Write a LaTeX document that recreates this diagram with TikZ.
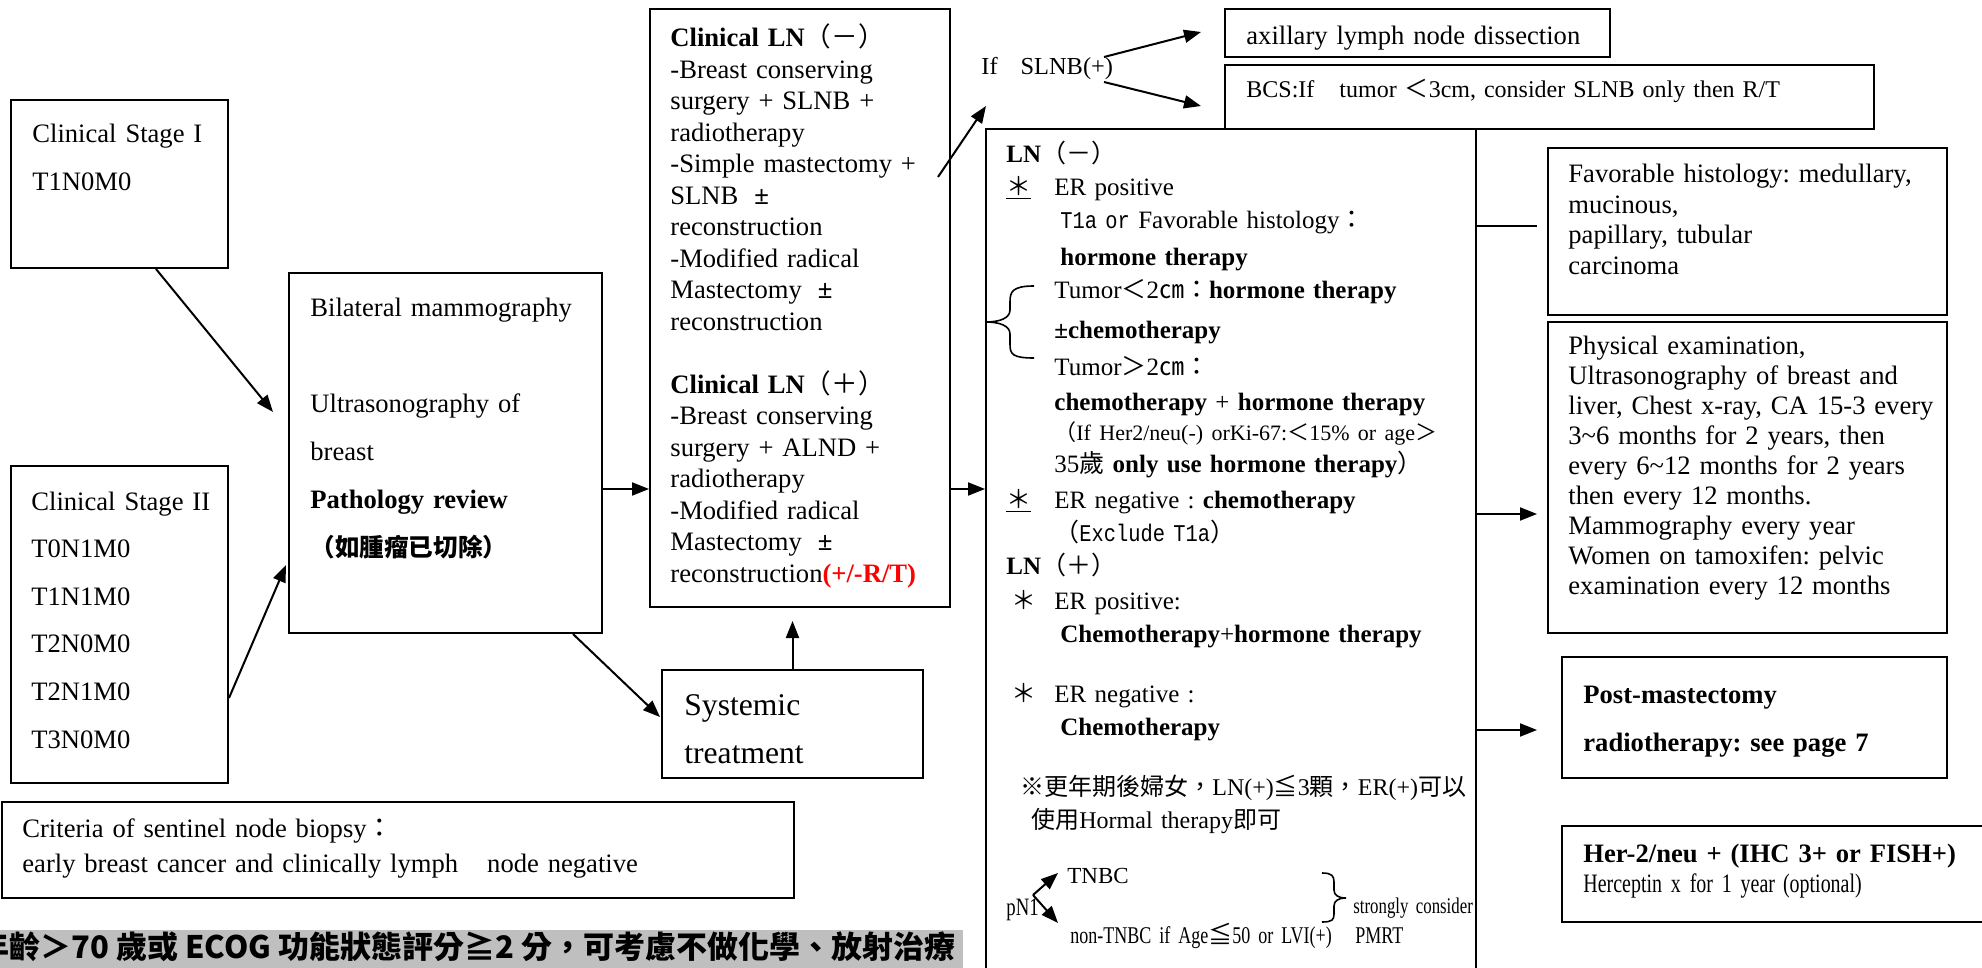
\documentclass[tikz,border=0pt]{standalone}
\usepackage{fontspec}
\setmainfont{Liberation Serif}
\newfontfamily\cjkfont{Noto Sans CJK TC}
\newfontfamily\narrowfont[FakeStretch=0.75]{Liberation Serif}
\newfontfamily\narrowmono[FakeStretch=0.85]{Liberation Mono}
\newcommand{\zh}[1]{{\cjkfont #1}}
\newcommand{\mono}[1]{{\narrowmono\fontsize{12}{12}\selectfont #1}}
\frenchspacing
\usepackage{tikz}
\usetikzlibrary{arrows.meta,fit}
\tikzstyle{boite}=[draw, line width=1pt, inner sep=0pt]
\tikzstyle{texte}=[anchor=base west, inner sep=0pt, text width=400pt, align=left]
\tikzstyle{fleche}=[-{Triangle[length=8.5pt,width=6.5pt]}, line width=1pt]
\tikzstyle{accolade}=[line width=0.8pt]

\begin{document}
\begin{tikzpicture}[x=0.5pt,y=-0.5pt]

\useasboundingbox (0,0) rectangle (1982,968);
\clip (0,0) rectangle (1982,968);

% boxes
\node[boite, fit={(11,100) (228,268)}] (stageI) {};
\node[boite, fit={(11,466) (228,783)}] (stageII) {};
\node[boite, fit={(289,273) (602,633)}] (bilateral) {};
\node[boite, fit={(650,9) (950,607)}] (clinical) {};
\node[boite, fit={(662,670) (923,778)}] (systemic) {};
\node[boite, fit={(2,802) (794,898)}] (criteria) {};
\node[boite, fit={(1225,9) (1610,57)}] (axillary) {};
\node[boite, fit={(1225,65) (1874,129)}] (bcs) {};
\node[boite, fit={(986,129) (1476,990)}] (ln) {};
\node[boite, fit={(1548,148) (1947,315)}] (fav) {};
\node[boite, fit={(1548,322) (1947,633)}] (phys) {};
\node[boite, fit={(1562,657) (1947,778)}] (post) {};
\node[boite, fit={(1562,826) (2000,922)}] (her2) {};

% left column
\node[texte, font=\fontsize{13.3}{24}\selectfont] (stageItxt) at (32,143) {Clinical Stage I\\T1N0M0};
\node[texte, font=\fontsize{13.3}{23.8}\selectfont] (stageIItxt) at (31,510)
  {Clinical Stage II\\T0N1M0\\T1N1M0\\T2N0M0\\T2N1M0\\T3N0M0};
\node[texte, font=\fontsize{13.3}{24}\selectfont] (bilateraltxt) at (310,317)
  {Bilateral mammography\\[24pt]Ultrasonography of\\breast\\\textbf{Pathology review}\\{\cjkfont\bfseries\fontsize{12.3}{24}\selectfont（如腫瘤已切除）}};
\node[texte, font=\fontsize{15.8}{24}\selectfont] (systemictxt) at (684,715) {Systemic\\treatment};
\node[texte, font=\fontsize{13.3}{17.5}\selectfont] (criteriatxt) at (22,837)
  {Criteria of sentinel node biopsy\zh{：}\\early breast cancer and clinically lymph\hspace{14.5pt}node negative};

% surgery
\node[texte, font=\fontsize{13.3}{15.75}\selectfont] (clinicaltxt) at (670,47)
  {\textbf{Clinical LN}\zh{（－）}\\-Breast conserving\\surgery + SLNB +\\radiotherapy\\-Simple mastectomy +\\
   SLNB\hspace{8pt}\textbf{±}\\reconstruction\\-Modified radical\\Mastectomy\hspace{8pt}\textbf{±}\\reconstruction\\[15.75pt]
   \textbf{Clinical LN}\zh{（＋）}\\-Breast conserving\\surgery + ALND +\\radiotherapy\\-Modified radical\\
   Mastectomy\hspace{8pt}\textbf{±}\\reconstruction\textcolor{red}{\textbf{(+/-R/T)}}};

% SLNB
\node[texte, font=\fontsize{12.2}{15}\selectfont] (ifslnb) at (981,75) {If\hspace{11.5pt}SLNB(+)};
\node[texte, font=\fontsize{13.3}{15}\selectfont] (axillarytxt) at (1246,45) {axillary lymph node dissection};
\node[texte, font=\fontsize{12}{15}\selectfont] (bcstxt) at (1246,98)
  {BCS:If\hspace{12.5pt}tumor\hspace{4pt}\zh{＜}3cm, consider SLNB only then R/T};

% systemic therapy
\node[texte, font=\fontsize{12.5}{16.5}\selectfont] (lntxt) at (1006,163)
  {\textbf{LN}\zh{（－）}\\
   \makebox[24pt][l]{\underline{\zh{＊}}}ER positive\\
   \hspace*{27pt}\mono{T1a or }Favorable histology\zh{：}\\[2pt]
   \hspace*{27pt}\textbf{hormone therapy}\\
   \hspace*{24pt}Tumor\zh{＜}2\zh{㎝：}\textbf{hormone therapy}\\[3.5pt]
   \hspace*{24pt}\textbf{±chemotherapy}\\[2pt]
   \hspace*{24pt}Tumor\zh{＞}2\zh{㎝：}\\[1pt]
   \hspace*{24pt}\textbf{chemotherapy} + \textbf{hormone therapy}\\[-1.5pt]
   \hspace*{24pt}{\fontsize{11}{16.5}\selectfont\zh{（}If Her2/neu(-) orKi-67:\zh{＜}15\% or age\zh{＞}}\\[-0.5pt]
   \hspace*{24pt}35\zh{歲} \textbf{only use hormone therapy}\zh{）}\\[1.5pt]
   \makebox[24pt][l]{\underline{\zh{＊}}}ER negative : \textbf{chemotherapy}\\
   \hspace*{24pt}\zh{（}\mono{Exclude T1a}\zh{）}\\
   \textbf{LN}\zh{（＋）}\\[1pt]
   \hspace*{2.5pt}\makebox[21.5pt][l]{\zh{＊}}ER positive:\\
   \hspace*{27pt}\textbf{Chemotherapy}+\textbf{hormone therapy}\\[13.5pt]
   \hspace*{2.5pt}\makebox[21.5pt][l]{\zh{＊}}ER negative :\\
   \hspace*{27pt}\textbf{Chemotherapy}\\[13.5pt]
   {\fontsize{12}{16.5}\selectfont\hspace*{7pt}\zh{※更年期後婦女，}LN(+)\zh{≦}3\zh{顆，}ER(+)\zh{可以}}\\
   {\fontsize{12}{16.5}\selectfont\hspace*{12.5pt}\zh{使用}Hormal therapy\zh{即可}}};
\draw[accolade] (1034,286) .. controls (1012,286) and (1010,292) .. (1010,302) -- (1010,310)
  .. controls (1010,318) and (1000,322) .. (986,322) .. controls (1000,322) and (1010,326) .. (1010,334)
  -- (1010,344) .. controls (1010,354) and (1012,358) .. (1034,358);

% pN1
\node[texte, font=\narrowfont\fontsize{12.5}{15}\selectfont] (pn1) at (1006,915) {pN1};
\node[texte, font=\fontsize{11.5}{15}\selectfont] (tnbc) at (1067,883) {TNBC};
\node[texte, font=\narrowfont\fontsize{12}{15}\selectfont] (nontnbc) at (1070,943) {non-TNBC if Age\zh{≦}50 or LVI(+)};
\node[texte, font=\narrowfont\fontsize{11.2}{15}\selectfont] (consider) at (1353,913) {strongly consider};
\node[texte, font=\narrowfont\fontsize{12}{15}\selectfont] (pmrt) at (1355,943) {PMRT};
\draw[accolade] (1322,873) .. controls (1332,873) and (1334,876) .. (1334,882) -- (1334,890)
  .. controls (1334,895) and (1338,898) .. (1346,898) .. controls (1338,898) and (1334,901) .. (1334,906)
  -- (1334,914) .. controls (1334,920) and (1332,922) .. (1322,922);

% follow-up
\node[texte, font=\fontsize{13.3}{15.2}\selectfont] (favtxt) at (1568,183)
  {Favorable histology: medullary,\\mucinous,\\papillary, tubular\\carcinoma};
\node[texte, font=\fontsize{13.3}{15}\selectfont] (phystxt) at (1568,355)
  {Physical examination,\\Ultrasonography of breast and\\liver, Chest x-ray, CA 15-3 every\\
   3\textasciitilde6 months for 2 years, then\\every 6\textasciitilde12 months for 2 years\\then every 12 months.\\
   Mammography every year\\Women on tamoxifen: pelvic\\examination every 12 months};
\node[texte, font=\bfseries\fontsize{13.3}{24}\selectfont] (posttxt) at (1583,703)
  {Post-mastectomy\\radiotherapy: see page 7};
\node[texte, font=\fontsize{13.3}{15}\selectfont] (her2txt) at (1583,862)
  {\textbf{Her-2/neu + (IHC 3+ or FISH+)}\\{\narrowfont Herceptin x for 1 year\hspace{4pt}(optional)}};

% banner
\fill[gray!50] (0,930) rectangle (963,975);
\node[anchor=base west, inner sep=0pt, font=\cjkfont\bfseries\fontsize{15.5}{15.5}\selectfont] (avis) at (-22,958)
  {年齡＞70 歲或 ECOG 功能狀態評分≧2 分，可考慮不做化學、放射治療};

% arrows
\draw[fleche] ([shift={(36.5,0)}]stageI.south) -- ([shift={(-15,-41)}]bilateral.west);
\draw[fleche] ([shift={(0,73.5)}]stageII.east) -- ([shift={(-2,112)}]bilateral.west);
\draw[fleche] ([shift={(0,36)}]bilateral.east) -- ([shift={(0,181)}]clinical.west);
\draw[fleche] ([shift={(127.5,0)}]bilateral.south) -- ([shift={(-1,-7)}]systemic.west);
\draw[fleche] (systemic.north) -- ([shift={(-7.5,13)}]clinical.south);
\draw[fleche] ([shift={(0,181)}]clinical.east) -- ([shift={(0,-70.5)}]ln.west);
\draw[fleche] ([shift={(-13,-131)}]clinical.east) -- ([shift={(5,31)}]ifslnb.base west);
\draw[fleche] ([shift={(123,-18)}]ifslnb.base west) -- ([shift={(-23,-1)}]axillary.west);
\draw[fleche] ([shift={(123,7)}]ifslnb.base west) -- ([shift={(-23,9)}]bcs.west);
\draw[line width=1pt] ([shift={(0,-333.5)}]ln.east) -- ([shift={(-10,-5.5)}]fav.west);
\draw[fleche] ([shift={(0,-45.5)}]ln.east) -- ([shift={(-10,36.5)}]phys.west);
\draw[fleche] ([shift={(0,170.5)}]ln.east) -- ([shift={(-24,12.5)}]post.west);
\draw[fleche] ([shift={(27,-20)}]pn1.base west) -- ([shift={(-9,-10)}]tnbc.base west);
\draw[fleche] ([shift={(27,-20)}]pn1.base west) -- ([shift={(-12,-20)}]nontnbc.base west);

\end{tikzpicture}
\end{document}
